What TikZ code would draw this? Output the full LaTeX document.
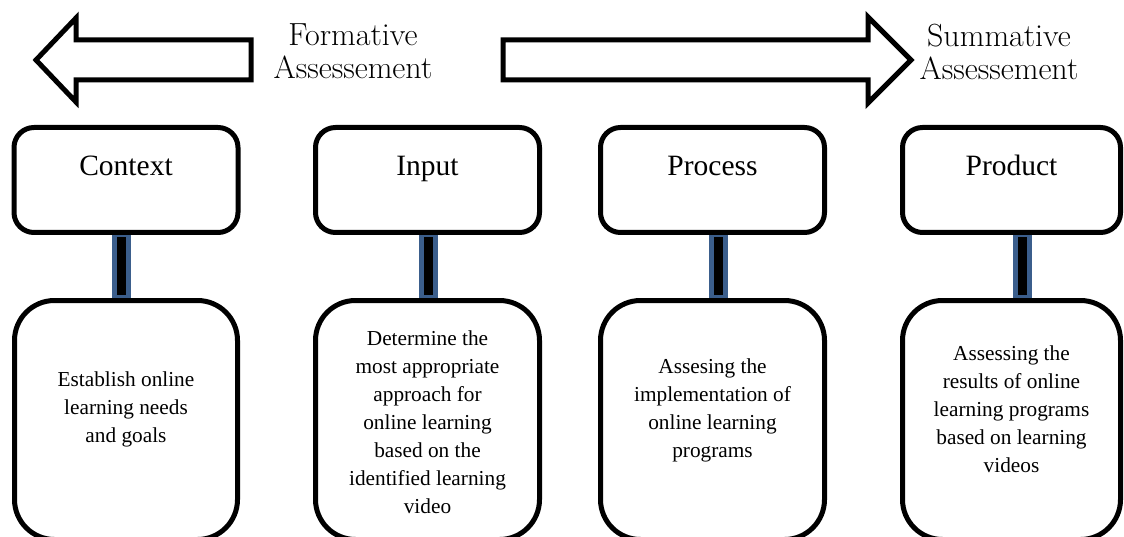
\documentclass[tikz,border=0pt]{standalone}
\usepackage{fontspec}
\newfontfamily\timesfont{Liberation Serif}
\usetikzlibrary{positioning,backgrounds}
\definecolor{linkblue}{RGB}{59,94,140}
\begin{document}
\begin{tikzpicture}[
        x=1pt, y=-1pt,
        flow/.style={draw, line width=5pt, line join=miter, fill=white},
        lbl/.style={align=center, inner sep=0pt, font=\fontsize{32}{33}\selectfont},
        phase/.style={draw, line width=5pt, rounded corners=20pt, fill=white,
            minimum width=224pt, inner ysep=0pt, text height=48.5pt, text depth=56.5pt,
            font=\timesfont\fontsize{29.5}{35}\selectfont},
        task/.style={draw, line width=5pt, rounded corners=40pt, fill=white,
            minimum width=224pt, inner ysep=0pt, align=center,
            font=\timesfont\fontsize{21.3}{28}\selectfont},
        link/.style={draw=linkblue, fill=black, line width=5pt},
    ]
    \useasboundingbox (0,0) rectangle (1124,537);
    \clip (0,0) rectangle (1124,537);
    % the two arrows
    \draw[flow] (36,60) -- (76,18) -- (76,40) -- (251,40) -- (251,80) -- (76,80) -- (76,102) -- cycle;
    \draw[flow] (503,40) -- (868,40) -- (868,17) -- (911,60) -- (868,103) -- (868,80) -- (503,80) -- cycle;
    \node[lbl] (form) at (353,51.5) {Formative\\Assessement};
    \node[lbl] (summ) at (999,51.5) {Summative\\Assessement};
    % phases
    \node[phase] (ctx) at (126,180) {Context};
    \node[phase] (inp) at (427.5,180) {Input};
    \node[phase] (proc) at (712.5,180) {Process};
    \node[phase, minimum width=218pt] (prod) at (1011.5,180) {Product};
    % what each phase does (text height = down to the last line)
    \node[task, below=63pt of ctx, minimum width=223pt, text height=141.5pt, text depth=97.5pt] (ctxd)
        {Establish online\\learning needs\\and goals};
    \node[task, below=63pt of inp, text height=212.5pt, text depth=26.5pt] (inpd)
        {Determine the\\most appropriate\\approach for\\online learning\\based on the\\identified learning\\video};
    \node[task, below=63pt of proc, text height=156.5pt, text depth=82.5pt] (procd)
        {Assesing the\\implementation of\\online learning\\programs};
    \node[task, below=63pt of prod, minimum width=218pt, text height=171.5pt, text depth=67.5pt] (prodd)
        {Assessing the\\results of online\\learning programs\\based on learning\\videos};
    \begin{scope}[on background layer]
        \draw[link] ([xshift=-11.5pt]ctx.south) rectangle ([xshift=2.5pt]ctxd.north);
        \draw[link] ([xshift=-6.5pt]inp.south) rectangle ([xshift=7.5pt]inpd.north);
        \draw[link] ([xshift=-1.5pt]proc.south) rectangle ([xshift=12.5pt]procd.north);
        \draw[link] ([xshift=4pt]prod.south) rectangle ([xshift=18pt]prodd.north);
    \end{scope}
\end{tikzpicture}
\end{document}
